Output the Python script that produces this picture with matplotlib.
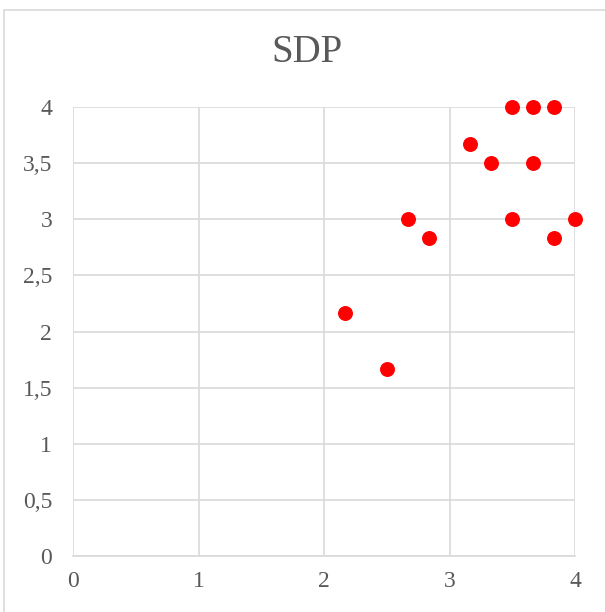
import matplotlib
matplotlib.use("Agg")
import matplotlib.pyplot as plt
from matplotlib.patches import Rectangle
from matplotlib.ticker import FuncFormatter

# Scatter values
x_vals = [3.5, 3.667, 3.833, 3.167, 3.333, 3.667, 2.667, 2.833, 3.5, 4.0, 3.833, 2.167, 2.5]
y_vals = [4.0, 4.0, 4.0, 3.667, 3.5, 3.5, 3.0, 2.833, 3.0, 3.0, 2.833, 2.167, 1.667]

x_ticks = [0, 1, 2, 3, 4]
y_ticks = [0, 0.5, 1, 1.5, 2, 2.5, 3, 3.5, 4]

TEXT = "#595959"
GRID = "#d9d9d9"

plt.rcParams["font.family"] = ["Liberation Serif", "DejaVu Serif"]

fig = plt.figure(figsize=(6.05, 6.12), dpi=100)
# outer chart border (Excel style)
fig.patches.append(Rectangle((4 / 605, -0.1), 1.2, 1 - 10 / 612 + 0.1,
                             transform=fig.transFigure, fill=False,
                             edgecolor=GRID, lw=1.2))

ax = fig.add_axes([73 / 605, 1 - 556 / 612, (575 - 73) / 605, (556 - 107) / 612])
ax.scatter(x_vals, y_vals, s=95, color="#ff0000", zorder=3, clip_on=False)

ax.set_xlim(0, 4)
ax.set_ylim(0, 4)
ax.set_xticks(x_ticks)
ax.set_yticks(y_ticks)
ax.yaxis.set_major_formatter(FuncFormatter(lambda v, _: f"{v:g}".replace(".", ",")))
ax.grid(True, color=GRID, lw=1.2)
ax.set_axisbelow(True)
for side in ("top", "right", "left"):
    ax.spines[side].set_visible(False)
ax.spines["bottom"].set_color(GRID)
ax.spines["bottom"].set_linewidth(1.2)
ax.tick_params(length=0, labelsize=17, colors=TEXT)
ax.tick_params(axis="x", pad=11)
ax.tick_params(axis="y", pad=15)

fig.text(307 / 605, 1 - 52 / 612, "SDP", ha="center", va="center",
         fontsize=28, color=TEXT)

plt.savefig("out.png", dpi=100)
